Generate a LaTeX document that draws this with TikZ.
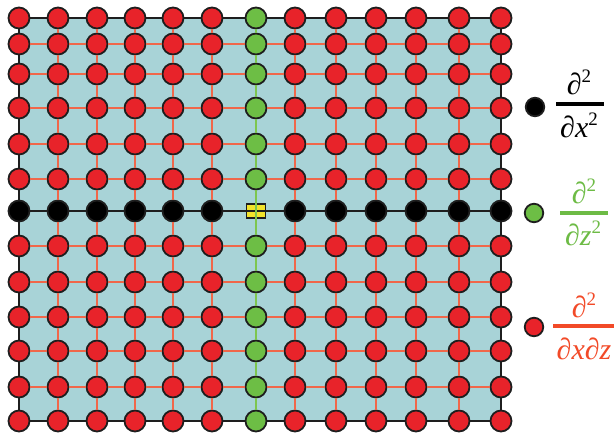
\documentclass[tikz,border=0pt]{standalone}
\usepackage{fontspec}
\usetikzlibrary{backgrounds}

\newfontfamily\legendfont{Liberation Serif}
% upright superscript two for the legend fractions
\newcommand\supertwo{\raisebox{0.40em}{\upshape\fontsize{19}{19}\selectfont 2}}

\definecolor{gridbg}{HTML}{A8D3D7}
\definecolor{dotred}{HTML}{E8232A}
\definecolor{dotgreen}{HTML}{6DBE45}
\definecolor{linered}{HTML}{F0674A}
\definecolor{linegreen}{HTML}{7DC64E}
\definecolor{boxyellow}{HTML}{F2E32B}
\definecolor{rim}{HTML}{1E1E1E}
\definecolor{txtgreen}{HTML}{6DBB45}
\definecolor{txtred}{HTML}{F24A28}

\tikzset{
  dot/.style={circle, draw=rim, line width=1.8pt, minimum size=21pt, inner sep=0pt},
  reddot/.style={dot, fill=dotred},
  greendot/.style={dot, fill=dotgreen},
  blackdot/.style={dot, fill=black},
  keydot/.style={minimum size=18.5pt},
  centrebox/.style={rectangle, draw=rim, line width=1.5pt, fill=boxyellow,
                    minimum width=19pt, minimum height=14pt, inner sep=0pt},
  borderline/.style={draw=rim, line width=2pt},
  blackline/.style={draw=rim, line width=1.8pt},
  redline/.style={draw=linered, line width=1.5pt},
  greenline/.style={draw=linegreen, line width=1.5pt},
  fracpart/.style={inner sep=0pt, anchor=base, font=\legendfont\itshape\fontsize{30}{30}\selectfont},
  fracbar/.style={line width=3.2pt},
}

\begin{document}
\begin{tikzpicture}[x=1pt, y=-1pt]
  \useasboundingbox (0,0) rectangle (614,437);

  % grid points: red interior, green column, black row, yellow centre cell
  \foreach \y [count=\i] in {18,44,74,108,144,179,211,246,282,317,351,387,421}{
    \foreach \x [count=\j] in {19,58,97,135,173,212,256,295,336,376,416,459,501}{
      \def\kind{reddot}
      \ifnum\j=7 \def\kind{greendot}\fi
      \ifnum\i=7 \def\kind{blackdot}\fi
      \ifnum\i=7 \ifnum\j=7 \def\kind{centrebox}\fi\fi
      \node[\kind] (n-\i-\j) at (\x,\y) {};
    }
  }

  % shaded domain behind the grid
  \begin{pgfonlayer}{background}
    \fill[gridbg] (n-1-1.center) rectangle (n-13-13.center);
  \end{pgfonlayer}

  % horizontal links
  \foreach \i in {1,...,13}{
    \foreach \j [evaluate=\j as \k using int(\j+1)] in {1,...,12}{
      \def\lk{redline}
      \ifnum\i=7 \def\lk{blackline}\fi
      \ifnum\i=1 \def\lk{borderline}\fi
      \ifnum\i=13 \def\lk{borderline}\fi
      \path[\lk] (n-\i-\j) -- (n-\i-\k);
    }
  }
  % vertical links
  \foreach \j in {1,...,13}{
    \foreach \i [evaluate=\i as \k using int(\i+1)] in {1,...,12}{
      \def\lk{redline}
      \ifnum\j=7 \def\lk{greenline}\fi
      \ifnum\j=1 \def\lk{borderline}\fi
      \ifnum\j=13 \def\lk{borderline}\fi
      \path[\lk] (n-\i-\j) -- (n-\k-\j);
    }
  }
  % lines crossing the centre cell
  \path[draw=rim, line width=1.5pt] (n-7-7.west) -- (n-7-7.east);
  \path[greenline] (n-7-7.north) -- (n-7-7.south);

  % legend markers
  \node[blackdot, keydot] (kx) at (535,107) {};
  \node[greendot, keydot] (kz) at (534,213) {};
  \node[reddot, keydot] (kxz) at (534,327) {};

  % d2/dx2
  \node[fracpart, text=black] (fx-num) at (579,94) {∂\supertwo};
  \node[fracpart, text=black] (fx-den) at (579,137) {∂x\supertwo};
  \coordinate (fx-l) at (556,104);
  \coordinate (fx-r) at (604,104);
  \draw[fracbar, black] (fx-l) -- (fx-r);

  % d2/dz2
  \node[fracpart, text=txtgreen] (fz-num) at (584,203) {∂\supertwo};
  \node[fracpart, text=txtgreen] (fz-den) at (583,245) {∂z\supertwo};
  \coordinate (fz-l) at (560,213);
  \coordinate (fz-r) at (608,213);
  \draw[fracbar, txtgreen] (fz-l) -- (fz-r);

  % d2/dxdz
  \node[fracpart, text=txtred] (fxz-num) at (584,317) {∂\supertwo};
  \node[fracpart, text=txtred] (fxz-den) at (584,359) {∂x∂z};
  \coordinate (fxz-l) at (553,326);
  \coordinate (fxz-r) at (614,326);
  \draw[fracbar, txtred] (fxz-l) -- (fxz-r);
\end{tikzpicture}
\end{document}
